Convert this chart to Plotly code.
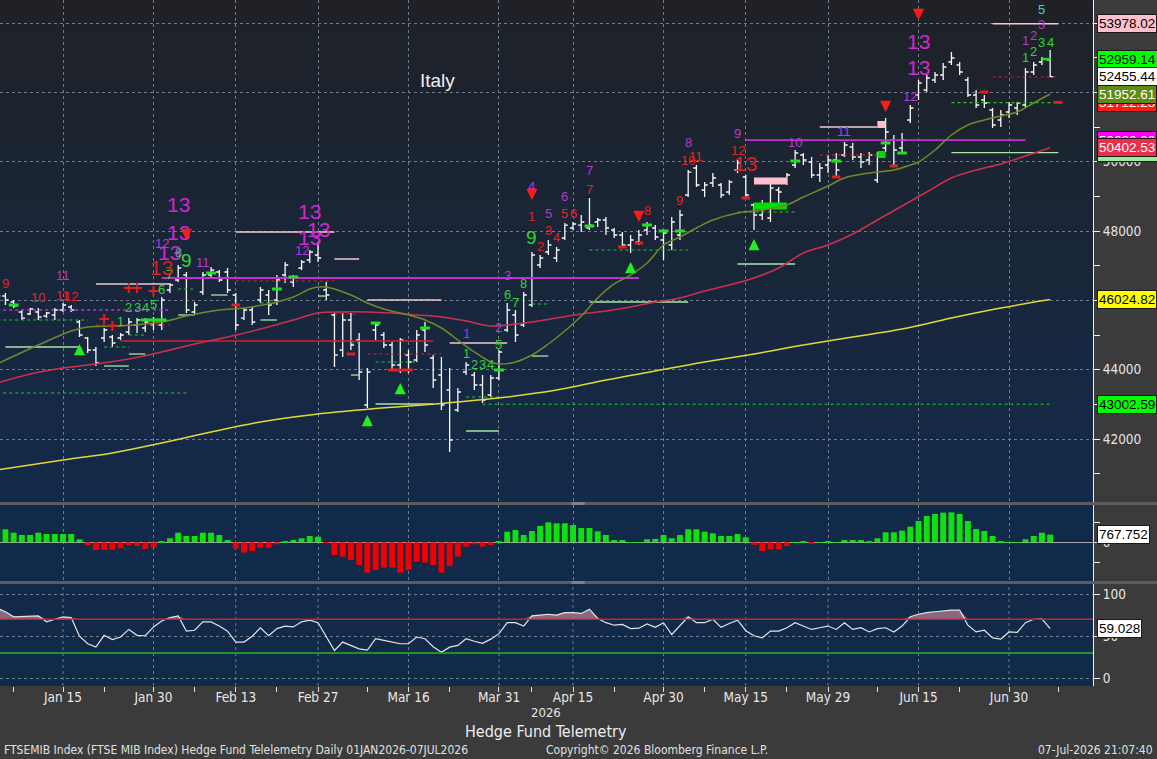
import plotly.graph_objects as go
import pandas as pd

# ---------------- trading calendar (Borsa Italiana) ----------------
HOLIDAYS = ["2026-01-01", "2026-04-03", "2026-04-06", "2026-05-01"]
CAL = [d.strftime("%Y-%m-%d") for d in pd.bdate_range("2026-01-02", "2026-07-17")]
CAL = [d for d in CAL if d not in HOLIDAYS]
DATES = CAL[CAL.index("2026-01-05"):CAL.index("2026-07-07") + 1]

# ---------------- price bars (FTSE MIB) ----------------
OPEN = [45981, 46126, 45952, 45664, 45606, 45664, 45548, 45577, 45721, 45808,
        45375, 44914, 44568, 44914, 44943, 44914, 45087, 45289, 45202, 45289,
        45289, 46299, 46587, 46731, 45664, 46241, 46731, 46818, 46818, 46154,
        45490, 45721, 46010, 46154, 46010, 46731, 46529, 46933, 47164, 47308,
        46299, 45577, 44568, 45433, 44856, 42981, 45145, 45000, 44712, 44135,
        44423, 44279, 45145, 44337, 43846, 43413, 42836, 43933, 43846, 43558,
        43269, 43760, 45145, 45577, 45289, 45866, 47020, 47395, 47222, 47799,
        48087, 48173, 48087, 48260, 48318, 48030, 47885, 47597, 47683, 48030,
        48087, 47741, 47597, 47885, 49039, 49818, 49184, 49385, 49328, 49126,
        49760, 49559, 48751, 48462, 48376, 49184, 49414, 49905, 50193, 49991,
        49616, 49905, 50049, 50193, 50424, 50136, 50049, 49472, 50395, 50626,
        50395, 51203, 51924, 52069, 52357, 52501, 52876, 52790, 52357, 51924,
        51780, 51491, 51203, 51434, 51549, 51636, 52588, 52876, 52934]
HIGH = [46212, 46212, 46010, 45721, 45779, 45779, 45664, 45779, 45923, 45866,
        45433, 44943, 44654, 45202, 45000, 45058, 45490, 45490, 45490, 45519,
        46097, 46500, 47020, 46818, 45952, 46818, 46962, 46876, 46933, 46212,
        45779, 45808, 46385, 46299, 46731, 47106, 46731, 47164, 47452, 47683,
        46529, 45635, 45635, 45635, 45058, 44048, 45375, 45087, 44798, 44914,
        44568, 45145, 45375, 44423, 44365, 44048, 43471, 44221, 43933, 43846,
        43846, 44568, 45923, 45721, 46241, 47395, 47308, 47741, 47539, 48231,
        48260, 48462, 48953, 48376, 48404, 48087, 47972, 47885, 48030, 48260,
        48173, 48030, 48404, 48606, 49760, 49905, 49414, 49674, 49385, 49472,
        50049, 49616, 48808, 48895, 49385, 49270, 49674, 50338, 50251, 50136,
        49962, 50193, 50251, 50568, 50539, 50251, 50280, 50280, 51261, 50770,
        50828, 51636, 52357, 52501, 52588, 52847, 53165, 52876, 52444, 52069,
        51924, 51549, 51491, 51722, 51722, 52703, 52876, 53021, 53223]
LOW = [45866, 45866, 45779, 45433, 45577, 45433, 45490, 45433, 45664, 45664,
       44943, 44481, 44106, 44798, 44654, 44856, 45000, 45058, 45087, 45145,
       45145, 46212, 46529, 45635, 45577, 46154, 46674, 46529, 46212, 45145,
       45433, 45289, 45923, 45577, 45866, 46500, 46385, 46876, 47078, 47106,
       46010, 44077, 44365, 44568, 43702, 42894, 44856, 44625, 43990, 43904,
       43904, 44221, 44510, 43471, 42837, 41625, 42779, 43846, 43414, 43039,
       43211, 43702, 45087, 44798, 45231, 45808, 46933, 47308, 47106, 47741,
       48030, 47972, 48030, 48116, 47885, 47799, 47510, 47366, 47597, 47885,
       47741, 47164, 47452, 47741, 48982, 49270, 48982, 49270, 48953, 49039,
       49674, 48953, 48030, 48318, 48260, 48693, 49328, 49818, 49905, 49530,
       49414, 49674, 49559, 50136, 50049, 49818, 49905, 49385, 50280, 49847,
       50251, 51117, 51780, 52011, 52270, 52357, 52790, 52501, 51866, 51549,
       51549, 50972, 51001, 51261, 51347, 51549, 52501, 52790, 52440]
CLOSE = [46126, 46010, 45837, 45490, 45750, 45519, 45635, 45721, 45866, 45721,
         45000, 44568, 44193, 45145, 44769, 45000, 45375, 45433, 45375, 45433,
         46010, 46443, 46933, 45721, 45866, 46731, 46876, 46587, 46299, 45289,
         45721, 45375, 46299, 45866, 46587, 47020, 46645, 47106, 47395, 47222,
         46154, 44423, 45433, 44712, 43933, 43933, 45289, 44712, 44135, 44856,
         44221, 45000, 44712, 43702, 42981, 41971, 43356, 44135, 43558, 43125,
         43760, 44510, 45721, 45000, 46154, 47308, 47222, 47597, 47452, 48173,
         48202, 48260, 48173, 48318, 48087, 47885, 47597, 47741, 47885, 48173,
         47828, 47943, 48260, 48462, 49702, 49328, 49328, 49530, 49039, 49414,
         49962, 49039, 48462, 48751, 49241, 49126, 49616, 50251, 50049, 49616,
         49818, 50049, 49760, 50482, 50136, 49991, 50193, 50193, 50857, 50338,
         50626, 51549, 52270, 52415, 52501, 52732, 52992, 52588, 51924, 51636,
         51693, 51059, 51347, 51636, 51693, 52588, 52790, 52963, 52455.44]

# ---------------- oscillators ----------------
HIST = [1500, 1300, 960, 730, 730, 960, 830, 830, 830, 830,
        300, -270, -770, -770, -770, -600, -270, -370, -670, -540,
        50, 400, 960, 630, 630, 960, 960, 730, 230, -600,
        -1030, -870, -540, -540, -200, 130, 230, 400, 630, 560,
        -50, -1270, -1430, -1770, -2270, -3030, -2770, -2530, -2530, -3030,
        -2770, -1930, -2030, -2270, -3030, -2370, -1430, -430, -200, -430,
        -270, 30, 1060, 1230, 730, 1130, 1630, 2000, 1900, 1900,
        1730, 1430, 1430, 1100, 730, 230, 230, 20, 20, 300,
        330, 730, 400, 730, 1300, 1300, 1060, 900, 630, 630,
        830, 500, -250, -870, -670, -670, -370, 20, 130, -100,
        20, 130, 20, 230, 230, 230, 130, 400, 1000, 1000,
        1170, 1570, 2130, 2630, 2830, 2970, 3000, 2830, 2130, 1330,
        1130, 630, 130, 20, 20, 300, 630, 960, 767.752]
RSI = [83, 79, 73, 73.5, 74, 74, 67, 70, 73, 72,
       50, 41, 37, 51, 46, 49, 58, 51, 50.5, 61,
       68, 72, 74, 56, 57, 67, 67, 62, 56, 43,
       43, 50, 60, 50.5, 59, 62, 61, 67, 69, 66,
       49, 33, 43, 39, 35, 33.5, 47, 45, 43, 41,
       41, 49, 47, 37.5, 31, 37, 39, 47, 44, 41.5,
       46.5, 53, 66, 66, 62, 74, 75, 76, 75, 78,
       78, 77, 82, 71, 66, 63, 64, 59, 59.5, 64.5,
       60.5, 66, 52, 63, 73, 66, 66, 70, 60.5, 65,
       69, 56.5, 50.5, 48, 56, 56, 60, 66, 62, 58,
       60, 62, 58, 66, 58, 60, 55, 59, 60, 55,
       62, 73, 76, 78, 79, 80, 81, 81, 63, 55,
       57, 48, 46.5, 55, 54.5, 66, 70, 70.5, 59.028]

# ---------------- moving averages (read at sample dates) ----------------
MA_FAST_D = ["2026-01-05", "2026-01-06", "2026-01-12", "2026-01-16", "2026-01-20", "2026-01-26",
             "2026-02-02", "2026-02-05", "2026-02-11", "2026-02-16", "2026-02-20", "2026-02-24",
             "2026-02-26", "2026-02-27", "2026-03-02", "2026-03-03", "2026-03-05", "2026-03-09",
             "2026-03-11", "2026-03-16", "2026-03-18", "2026-03-20", "2026-03-24", "2026-03-26",
             "2026-03-30", "2026-03-31", "2026-04-02", "2026-04-08", "2026-04-10", "2026-04-14",
             "2026-04-16", "2026-04-20", "2026-04-22", "2026-04-24", "2026-04-28", "2026-04-30",
             "2026-05-05", "2026-05-07", "2026-05-11", "2026-05-14", "2026-05-19", "2026-05-22",
             "2026-05-26", "2026-05-29", "2026-06-02", "2026-06-05", "2026-06-10", "2026-06-12",
             "2026-06-15", "2026-06-17", "2026-06-19", "2026-06-23", "2026-06-25", "2026-06-29",
             "2026-07-01", "2026-07-03", "2026-07-07"]
MA_FAST_V = [44164, 44279, 44712, 45116, 45231, 45260, 45375, 45548, 45721, 45779,
             45952, 46097, 46327, 46385, 46385, 46327, 46154, 45923, 45750, 45577,
             45433, 45202, 44856, 44510, 44221, 44164, 44221, 44423, 44741, 45116,
             45548, 46068, 46472, 46731, 47077, 47597, 47827, 48087, 48318, 48520,
             48606, 48751, 48981, 49299, 49530, 49674, 49760, 49905, 49991, 50338,
             50770, 51058, 51203, 51319, 51434, 51693, 51952.61]
MA_MID_D = ["2026-01-05", "2026-01-09", "2026-01-15", "2026-01-21", "2026-01-27", "2026-02-02",
            "2026-02-06", "2026-02-12", "2026-02-18", "2026-02-24", "2026-02-27", "2026-03-04",
            "2026-03-09", "2026-03-12", "2026-03-17", "2026-03-20", "2026-03-25", "2026-03-30",
            "2026-04-01", "2026-04-08", "2026-04-13", "2026-04-16", "2026-04-21", "2026-04-24",
            "2026-04-29", "2026-05-05", "2026-05-08", "2026-05-13", "2026-05-18", "2026-05-21",
            "2026-05-26", "2026-05-29", "2026-06-03", "2026-06-08", "2026-06-11", "2026-06-16",
            "2026-06-19", "2026-06-24", "2026-06-29", "2026-07-02", "2026-07-07"]
MA_MID_V = [43615, 43875, 44048, 44164, 44308, 44510, 44741, 44943, 45173, 45433,
            45635, 45664, 45664, 45635, 45577, 45520, 45404, 45260, 45289, 45375,
            45491, 45606, 45692, 45808, 45952, 46068, 46270, 46443, 46645, 46933,
            47366, 47597, 47914, 48318, 48722, 49126, 49530, 49760, 49934, 50165, 50402.53]
MA_SLOW_D = ["2026-01-05", "2026-01-15", "2026-01-23", "2026-02-02", "2026-02-10", "2026-02-18",
             "2026-02-26", "2026-03-06", "2026-03-16", "2026-03-24", "2026-04-01", "2026-04-13",
             "2026-04-21", "2026-04-29", "2026-05-08", "2026-05-18", "2026-05-26", "2026-06-03",
             "2026-06-11", "2026-06-19", "2026-06-29", "2026-07-07"]
MA_SLOW_V = [41105, 41394, 41596, 41885, 42202, 42490, 42692, 42836, 42952, 43067,
             43212, 43413, 43702, 43962, 44221, 44452, 44712, 44943, 45173, 45491,
             45779, 46024.82]

# ---------------- horizontal levels (start, end, price, kind) ----------------
LV_START = ["2026-02-02", "2026-01-05", "2026-05-15", "2026-01-21", "2026-02-13", "2026-03-03",
            "2026-03-09", "2026-03-23", "2026-05-28", "2026-06-26",
            "2026-01-06", "2026-01-22", "2026-01-27", "2026-02-04", "2026-02-10", "2026-02-18",
            "2026-02-27", "2026-03-05", "2026-03-10", "2026-03-25", "2026-04-08", "2026-04-17",
            "2026-05-14", "2026-06-19",
            "2026-01-05", "2026-01-05", "2026-01-22", "2026-01-27", "2026-02-04", "2026-02-18",
            "2026-03-05", "2026-03-10", "2026-03-25", "2026-04-08", "2026-04-17", "2026-05-14",
            "2026-06-19", "2026-03-27",
            "2026-01-21", "2026-02-13", "2026-03-03", "2026-03-09", "2026-05-28", "2026-06-26",
            "2026-01-26", "2026-07-06"]
LV_END = ["2026-04-27", "2026-02-03", "2026-07-02", "2026-02-03", "2026-03-03", "2026-03-06",
          "2026-03-20", "2026-04-01", "2026-06-08", "2026-07-08",
          "2026-01-19", "2026-01-27", "2026-01-29", "2026-02-06", "2026-02-12", "2026-02-20",
          "2026-03-02", "2026-03-06", "2026-03-19", "2026-03-31", "2026-04-10", "2026-05-06",
          "2026-05-25", "2026-07-08",
          "2026-02-05", "2026-01-20", "2026-01-27", "2026-01-29", "2026-02-06", "2026-02-20",
          "2026-03-06", "2026-03-17", "2026-03-31", "2026-04-10", "2026-05-06", "2026-05-25",
          "2026-07-08", "2026-07-07",
          "2026-02-03", "2026-03-03", "2026-03-06", "2026-03-20", "2026-06-08", "2026-07-08",
          "2026-03-19", "2026-07-08"]
LV_PRICE = [46645, 45721, 50620.00, 46472, 47972, 47193, 46010, 44769, 51001, 53978.02,
            44654, 44106, 44452, 45577, 46154, 45433, 46125, 43846, 43010, 42231, 44394, 45952,
            47049, 50263.54,
            43327, 45433, 44654, 45000, 46327, 45923, 44769, 44221, 43211, 45894, 47452, 48549,
            51703, 43002.59,
            45289, 46558, 45606, 44452, 50193, 52444,
            44827, 52959.14]
LV_KIND = ["mag", "magdot", "mag", "pink", "pink", "pink", "pink", "pink", "pink", "pink",
           "pale", "pale", "pale", "pale", "pale", "pale", "pale", "pale", "pale", "pale", "pale", "pale",
           "pale", "pale",
           "gdot", "gdot", "gdot", "gdot", "gdot", "gdot", "gdot", "gdot", "gdot", "gdot", "gdot", "gdot",
           "gdot", "gdot",
           "rdash", "rdash", "rdash", "rdash", "rdash", "rdash",
           "rsolid", "gdash"]
BLOCK_START = ["2026-05-18", "2026-05-18", "2026-06-08", "2026-06-08"]
BLOCK_END = ["2026-05-22", "2026-05-22", "2026-06-09", "2026-06-09"]
BLOCK_PRICE = [49443, 48722, 51073, 50208]
BLOCK_COLOR = ["#ffc0cb", "#00e000", "#ffc0cb", "#00e000"]

# ---------------- small markers ----------------
GMARK_D = ["2026-01-07", "2026-01-29", "2026-01-30", "2026-02-02", "2026-02-10", "2026-02-20",
           "2026-02-24", "2026-03-10", "2026-03-18", "2026-03-31", "2026-04-17", "2026-04-28",
           "2026-04-30", "2026-05-05", "2026-05-25", "2026-06-01", "2026-06-09", "2026-06-11"]
GMARK_P = [45866, 45433, 45433, 45433, 46789, 46327, 46674, 45346, 45202, 43990, 48145, 48174,
           48001, 48001, 50020, 50020, 50540, 50251]
RMARK_D = ["2026-01-22", "2026-01-23", "2026-01-27", "2026-01-28", "2026-01-30", "2026-02-13",
           "2026-03-05", "2026-03-12", "2026-03-13", "2026-03-16", "2026-04-23", "2026-04-27",
           "2026-05-15", "2026-06-01", "2026-06-10", "2026-06-25", "2026-07-08"]
RMARK_P = [45462, 45260, 46356, 46356, 46270, 45866, 44452, 43990, 43990, 43990, 47539, 47654,
           48953, 49559, 49876, 52009, 51712.23]
RMARK_S = ["cross", "cross", "cross", "cross", "cross", "dash", "dash", "dash", "dash", "dash",
           "dash", "dash", "dash", "dash", "dash", "dash", "dash"]

UP_D = ["2026-01-19", "2026-03-09", "2026-03-13", "2026-04-24", "2026-05-18"]
UP_P = [44740, 42692, 43615, 47106, 47770]
DN_D = ["2026-02-05", "2026-04-08", "2026-04-27", "2026-06-09", "2026-06-15"]
DN_P = [47741, 48895, 48260, 51434, 54088]

# ---------------- sequential counts ----------------
CNT_T = ["10", "9", "8", "10", "11", "11", "12", "1", "2", "3", "4", "5", "6", "7", "13", "12", "13", "8",
         "9", "13", "13", "11", "12", "13", "13", "13",
         "1", "1", "2", "3", "4", "5", "2", "3", "6", "7", "8", "9", "1", "4", "2", "3", "4", "5", "5", "6",
         "6", "7", "7", "8", "9", "8", "10", "11", "9", "12", "13", "10", "11", "12", "13", "13",
         "1", "2", "3", "5", "3", "4", "1", "2"]
CNT_D = ["2026-01-05", "2026-01-06", "2026-01-05", "2026-01-12", "2026-01-15", "2026-01-15", "2026-01-16",
         "2026-01-26", "2026-01-27", "2026-01-28", "2026-01-29", "2026-01-30", "2026-02-02", "2026-02-03",
         "2026-02-02", "2026-02-02", "2026-02-03", "2026-02-04", "2026-02-05", "2026-02-04", "2026-02-04",
         "2026-02-09", "2026-02-25", "2026-02-26", "2026-02-27", "2026-02-26",
         "2026-03-25", "2026-03-25", "2026-03-26", "2026-03-27", "2026-03-30", "2026-03-31", "2026-03-31",
         "2026-04-01", "2026-04-01", "2026-04-02", "2026-04-07", "2026-04-08", "2026-04-08", "2026-04-08",
         "2026-04-09", "2026-04-10", "2026-04-13", "2026-04-10", "2026-04-14", "2026-04-15", "2026-04-14",
         "2026-04-17", "2026-04-17", "2026-04-28", "2026-05-05", "2026-05-06", "2026-05-06", "2026-05-07",
         "2026-05-14", "2026-05-14", "2026-05-15", "2026-05-25", "2026-06-02", "2026-06-12", "2026-06-15",
         "2026-06-15", "2026-07-02", "2026-07-03", "2026-07-06", "2026-07-06", "2026-07-06", "2026-07-07",
         "2026-07-02", "2026-07-03"]
CNT_P = [46674, 46472, 46154, 46068, 46703, 46154, 46097, 45404, 45808, 45808, 45808, 45866, 46327, 46760,
         46962, 47626, 47395, 47395, 47164, 48751, 47972, 47106, 47452, 48549, 48030, 47799,
         45058, 44481, 44135, 44135, 44135, 44712, 45231, 46703, 46183, 45952, 46500, 47799, 48405, 49299,
         47568, 48029, 47827, 48520, 48520, 48520, 49010, 49212, 49732, 48606, 48895, 50568, 50049, 50164,
         50828, 50309, 49962, 50568, 50857, 51895, 53482, 52732, 53511, 53655, 53944, 54405, 53453, 53453,
         52992, 53165]
CNT_C = ["M", "R", "R", "R", "M", "R", "R", "G", "G", "G", "G", "G", "G", "G", "R", "M", "M", "T",
         "G", "M", "M", "M", "M", "M", "M", "M",
         "M", "G", "G", "G", "G", "G", "M", "M", "G", "G", "G", "G", "R", "M", "R", "R", "R", "M", "R", "R",
         "M", "R", "M", "R", "R", "M", "R", "R", "M", "R", "R", "M", "M", "M", "M", "M",
         "M", "M", "M", "C", "G", "G", "G", "G"]
BIG_NINES = ["2026-02-05", "2026-04-08"]

COLORS = {"M": "#b53ad6", "R": "#e02424", "G": "#2fd62f", "C": "#3fd0d0", "T": "#4aa890"}
BIGCOL = {"M": "#d028d0", "R": "#d82020", "G": "#33d633"}

# ---------------- labels ----------------
MAJOR_TICKS = ["2026-01-15", "2026-01-30", "2026-02-13", "2026-02-27", "2026-03-16", "2026-03-31",
               "2026-04-15", "2026-04-30", "2026-05-15", "2026-05-29", "2026-06-15", "2026-06-30"]
MAJOR_TEXT = ["Jan 15", "Jan 30", "Feb 13", "Feb 27", "Mar 16", "Mar 31", "Apr 15", "Apr 30",
              "May 15", "May 29", "Jun 15", "Jun 30"]
MINOR_TICKS = ["2026-01-07", "2026-01-22", "2026-02-06", "2026-02-20", "2026-03-09", "2026-03-23",
               "2026-04-08", "2026-04-22", "2026-05-08", "2026-05-22", "2026-06-08", "2026-06-22",
               "2026-07-08"]
Y_TICKS = [42000, 44000, 46000, 48000, 50000, 52000, 54000]
Y_TICK_TEXT = ["42000", "44000", "", "48000", "50000", "", ""]
PRICE_LABELS = [(53978.02, "#ffc0cb", "#000000"), (52959.14, "#00ff00", "#000000"),
                (52455.44, "#ffffff", "#000000"), (51712.23, "#ff1a1a", "#ffffff"),
                (51952.61, "#5f8a14", "#ffffff"), (50620.00, "#ff00ff", "#ffffff"),
                (50263.54, "#98ec98", "#000000"), (50402.53, "#ea2f4b", "#ffffff"),
                (46024.82, "#ffff00", "#000000"), (43002.59, "#00ff00", "#000000")]

# ================= figure =================
FONT_AX = "DejaVu Sans Condensed, Liberation Sans Narrow, Arial Narrow, sans-serif"
FONT_TXT = "Liberation Sans, Arial, sans-serif"
GRID = "#6d7b8c"

x_lo = CAL.index("2026-01-15") - 7.66
x_hi = CAL.index("2026-01-15") + 125.21

fig = go.Figure()

# levels
style = {"mag": ("#c030d0", 1.8, "solid"), "magdot": ("#c030d0", 1.3, "dot"),
         "pink": ("#f4c8d2", 1.5, "solid"), "pale": ("#a8e6a8", 1.3, "solid"),
         "gdot": ("#22c822", 1.2, "dot"), "rdash": ("#e02020", 1.2, "dot"),
         "rsolid": ("#d42030", 1.5, "solid"), "gdash": ("#22e022", 2.5, "dash")}
for s, e, p, k in zip(LV_START, LV_END, LV_PRICE, LV_KIND):
    c, w, d = style[k]
    fig.add_trace(go.Scatter(x=[s, e], y=[p, p], mode="lines", line=dict(color=c, width=w, dash=d),
                             hoverinfo="skip", showlegend=False, xaxis="x", yaxis="y"))
for s, e, p, c in zip(BLOCK_START, BLOCK_END, BLOCK_PRICE, BLOCK_COLOR):
    fig.add_trace(go.Scatter(x=[s, e], y=[p, p], mode="lines", line=dict(color=c, width=7),
                             hoverinfo="skip", showlegend=False, xaxis="x", yaxis="y"))

# moving averages
fig.add_trace(go.Scatter(x=MA_SLOW_D, y=MA_SLOW_V, mode="lines", line=dict(color="#e2da30", width=1.5, shape="spline"),
                         hoverinfo="skip", showlegend=False))
fig.add_trace(go.Scatter(x=MA_MID_D, y=MA_MID_V, mode="lines", line=dict(color="#cf2f4e", width=1.5, shape="spline"),
                         hoverinfo="skip", showlegend=False))
fig.add_trace(go.Scatter(x=MA_FAST_D, y=MA_FAST_V, mode="lines", line=dict(color="#6f8a2a", width=1.5, shape="spline"),
                         hoverinfo="skip", showlegend=False))

# price bars
fig.add_trace(go.Ohlc(x=DATES, open=OPEN, high=HIGH, low=LOW, close=CLOSE,
                      increasing=dict(line=dict(color="#f8f8f8", width=1.3)),
                      decreasing=dict(line=dict(color="#f8f8f8", width=1.3)),
                      tickwidth=0.38, hoverinfo="skip", showlegend=False, xaxis="x", yaxis="y"))

# small marks
fig.add_trace(go.Scatter(x=GMARK_D, y=GMARK_P, mode="markers",
                         marker=dict(symbol="line-ew", size=7, line=dict(color="#22e022", width=3)),
                         hoverinfo="skip", showlegend=False))
for sym in ("cross", "dash"):
    xs = [d for d, s in zip(RMARK_D, RMARK_S) if s == sym]
    ys = [p for p, s in zip(RMARK_P, RMARK_S) if s == sym]
    fig.add_trace(go.Scatter(x=xs, y=ys, mode="markers",
                             marker=dict(symbol="cross-thin" if sym == "cross" else "line-ew",
                                         size=7 if sym == "cross" else 6,
                                         line=dict(color="#e02020", width=2 if sym == "cross" else 3)),
                             hoverinfo="skip", showlegend=False))

# histogram
fig.add_trace(go.Bar(x=DATES, y=HIST, marker=dict(color=["#10e010" if v >= 0 else "#f00000" for v in HIST],
                                                  line=dict(width=0)),
                     hoverinfo="skip", showlegend=False, xaxis="x2", yaxis="y2"))

# RSI with overbought fill
fig.add_trace(go.Scatter(x=DATES, y=[70] * len(DATES), mode="lines", line=dict(width=0),
                         hoverinfo="skip", showlegend=False, xaxis="x3", yaxis="y3"))
fig.add_trace(go.Scatter(x=DATES, y=[max(v, 70) for v in RSI], mode="lines", line=dict(width=0),
                         fill="tonexty", fillcolor="rgba(176,128,146,0.75)",
                         hoverinfo="skip", showlegend=False, xaxis="x3", yaxis="y3"))
fig.add_trace(go.Scatter(x=DATES, y=RSI, mode="lines", line=dict(color="#e4e4e4", width=1.2),
                         hoverinfo="skip", showlegend=False, xaxis="x3", yaxis="y3"))

# ---------------- shapes ----------------
shapes = []
N = 48
top, bot = (31, 33, 38), (19, 42, 75)
for k in range(N):
    f = (k + 0.5) / N
    col = tuple(int(round(bot[j] + (top[j] - bot[j]) * f)) for j in range(3))
    shapes.append(dict(type="rect", xref="x domain", yref="y domain", x0=0, x1=1, y0=k / N, y1=(k + 1) / N + 0.002,
                       fillcolor="rgb(%d,%d,%d)" % col, line=dict(width=0), layer="below"))
# panel separators
for y0, y1 in ((0.2638, 0.2682), (0.1487, 0.1531)):
    shapes.append(dict(type="rect", xref="paper", yref="paper", x0=0, x1=1.06, y0=y0, y1=y1,
                       fillcolor="#5c5c5c", line=dict(width=0)))
    for dy in (0.3, 0.7):
        yy = y0 + (y1 - y0) * dy
        shapes.append(dict(type="line", xref="paper", yref="paper", x0=0.523, x1=0.535, y0=yy, y1=yy,
                           line=dict(color="#9a9a9a", width=1)))
# RSI reference lines and vertical grid
shapes.append(dict(type="line", xref="x3 domain", yref="y3", x0=0, x1=1, y0=70, y1=70,
                   line=dict(color="#d0202e", width=1.5)))
shapes.append(dict(type="line", xref="x3 domain", yref="y3", x0=0, x1=1, y0=30, y1=30,
                   line=dict(color="#22b822", width=1.5)))
for d in MAJOR_TICKS:
    shapes.append(dict(type="line", xref="x3", yref="y3 domain", x0=d, x1=d, y0=0, y1=1,
                       line=dict(color=GRID, width=1, dash="dot"), layer="below"))

# ---------------- annotations ----------------
ann = []
for t, d, p, c in zip(CNT_T, CNT_D, CNT_P, CNT_C):
    if t == "13":
        size, color = 21, BIGCOL[c]
    elif t == "9" and c == "G" and d in BIG_NINES:
        size, color = 19, BIGCOL[c]
    else:
        size, color = 13, COLORS[c]
    ann.append(dict(x=d, y=p, xref="x", yref="y", text=t, showarrow=False, yanchor="middle",
                    font=dict(family=FONT_TXT, size=size, color=color)))
for d, p in zip(UP_D, UP_P):
    ann.append(dict(x=d, y=p, xref="x", yref="y", text="", showarrow=True, ax=0, ay=12,
                    arrowhead=2, arrowsize=0.62, arrowwidth=3.6, arrowcolor="#22ee22"))
for d, p in zip(DN_D, DN_P):
    ann.append(dict(x=d, y=p, xref="x", yref="y", text="", showarrow=True, ax=0, ay=-12,
                    arrowhead=2, arrowsize=0.62, arrowwidth=3.6, arrowcolor="#ff1a1a"))

ann.append(dict(x=0.4007, y=0.8406, xref="x domain", yref="y domain", text="Italy", showarrow=False,
                yanchor="middle", font=dict(family=FONT_TXT, size=19, color="#f0f0f0")))

for v, bg, fg in PRICE_LABELS:
    ann.append(dict(xref="paper", yref="y", x=1, y=v, xanchor="left", xshift=4, yanchor="middle",
                    text="%.2f" % v, showarrow=False, bgcolor=bg, bordercolor="#1a1a1a", borderwidth=1,
                    borderpad=1, font=dict(family=FONT_TXT, size=13.5, color=fg)))
ann.append(dict(xref="paper", yref="y2", x=1, y=HIST[-1], xanchor="left", xshift=4, yanchor="middle",
                text="767.752", showarrow=False, bgcolor="#ffffff", bordercolor="#1a1a1a", borderwidth=1,
                borderpad=1, font=dict(family=FONT_TXT, size=13.5, color="#000000")))
ann.append(dict(xref="paper", yref="y3", x=1, y=RSI[-1], xanchor="left", xshift=4, yanchor="middle",
                text="59.028", showarrow=False, bgcolor="#ffffff", bordercolor="#1a1a1a", borderwidth=1,
                borderpad=1, font=dict(family=FONT_TXT, size=13.5, color="#000000")))

ann.append(dict(xref="paper", yref="paper", x=0.4995, y=-0.038, yanchor="middle", text="2026", showarrow=False,
                font=dict(family=FONT_AX, size=13, color="#e6e6e6")))
ann.append(dict(xref="paper", yref="paper", x=0.4995, y=-0.066, yanchor="middle", text="Hedge Fund Telemetry",
                showarrow=False, font=dict(family=FONT_AX, size=16, color="#eeeeee")))
ann.append(dict(xref="paper", yref="paper", x=0.0015, xanchor="left", y=-0.094, yanchor="middle",
                text="FTSEMIB Index (FTSE MIB Index) Hedge Fund Telelemetry Daily 01JAN2026-07JUL2026",
                showarrow=False, font=dict(family=FONT_AX, size=12, color="#e0e0e0")))
ann.append(dict(xref="paper", yref="paper", x=0.7045, y=-0.094, yanchor="middle",
                text="Copyright\u00a9 2026 Bloomberg Finance L.P.",
                showarrow=False, font=dict(family=FONT_AX, size=12, color="#e0e0e0")))
ann.append(dict(xref="paper", yref="paper", x=1.0567, xanchor="right", y=-0.094, yanchor="middle",
                text="07-Jul-2026 21:07:40",
                showarrow=False, font=dict(family=FONT_AX, size=12, color="#e0e0e0")))

# ---------------- axes ----------------
xcommon = dict(type="category", categoryorder="array", categoryarray=CAL, range=[x_lo, x_hi],
               showline=False, zeroline=False, fixedrange=True)
tickfont = dict(family=FONT_AX, size=13.5, color="#e6e6e6")

fig.update_layout(
    width=1157, height=759,
    margin=dict(l=0, r=64, t=0, b=73, autoexpand=False),
    paper_bgcolor="#3b3b3b", plot_bgcolor="#122a4a",
    bargap=0.28, showlegend=False,
    xaxis=dict(**xcommon, anchor="y", domain=[0, 1], tickvals=MAJOR_TICKS, ticktext=[""] * len(MAJOR_TICKS),
               ticks="", showticklabels=False, showgrid=True, gridcolor=GRID, griddash="dot", gridwidth=1),
    xaxis2=dict(**xcommon, matches="x", anchor="y2", domain=[0, 1], tickvals=MAJOR_TICKS,
                ticks="", showticklabels=False, showgrid=True, gridcolor=GRID, griddash="dot", gridwidth=1),
    xaxis3=dict(**xcommon, matches="x", anchor="y3", domain=[0, 1],
                tickvals=MAJOR_TICKS + MINOR_TICKS, ticktext=MAJOR_TEXT + [""] * len(MINOR_TICKS),
                ticks="outside", ticklen=5, tickcolor="#e0e0e0", tickwidth=1, showgrid=False,
                tickfont=tickfont, tickangle=0, ticklabelstandoff=-6),
    yaxis=dict(domain=[0.2682, 1], anchor="x", side="right", range=[40182, 54665],
               tickvals=Y_TICKS, ticktext=Y_TICK_TEXT,
               ticks="outside", ticklen=6, tickcolor="#f0f0f0", showline=True, linecolor="#f0f0f0", linewidth=1,
               showgrid=True, gridcolor=GRID, griddash="dot", gridwidth=1, zeroline=False, tickfont=tickfont,
               minor=dict(tickvals=[41000, 43000, 45000, 47000, 49000, 51000, 53000], ticks="outside",
                          ticklen=6, tickcolor="#f0f0f0", showgrid=False),
               fixedrange=True),
    yaxis2=dict(domain=[0.1531, 0.2638], anchor="x2", side="right", range=[-3870, 3730],
                tickvals=[-2000, 0, 2000], ticktext=["", "0", ""], ticks="outside", ticklen=6,
                tickcolor="#f0f0f0", showline=True, linecolor="#f0f0f0", showgrid=False,
                zeroline=True, zerolinecolor="#a8a8a8", zerolinewidth=1, tickfont=tickfont, fixedrange=True),
    yaxis3=dict(domain=[0, 0.1487], anchor="x3", side="right", range=[-9.1, 111.9],
                tickvals=[0, 50, 100], ticks="outside", ticklen=6, tickcolor="#f0f0f0",
                showline=True, linecolor="#f0f0f0", showgrid=True, gridcolor=GRID, griddash="dot",
                zeroline=False, tickfont=tickfont, fixedrange=True),
    shapes=shapes, annotations=ann,
)
fig.update_xaxes(rangeslider_visible=False)

fig.write_html("out.html", config={"displayModeBar": False},
               post_script="document.body.style.margin='0px';document.body.style.overflow='hidden';")
